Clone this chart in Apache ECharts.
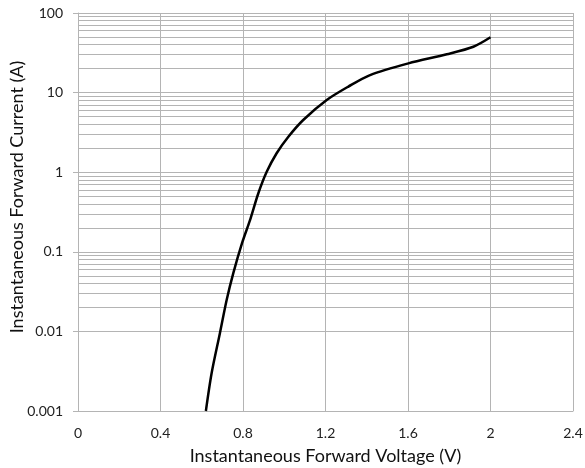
<!DOCTYPE html>
<html>
<head>
<meta charset="utf-8">
<script src="https://cdn.jsdelivr.net/npm/echarts@6/dist/echarts.min.js"></script>
<style>
  html, body { margin: 0; padding: 0; background: #fff; }
  #chart { width: 585px; height: 468px; }
</style>
</head>
<body>
<div id="chart"></div>
<script>
// forward voltage (V) vs current (A)
const voltage = [0.62, 0.648, 0.688, 0.721, 0.753, 0.796, 0.834, 0.874, 0.915, 0.963, 1.02, 1.092, 1.206, 1.311, 1.416, 1.602, 1.788, 1.917, 2.0]
const current = [0.001, 0.003, 0.0095, 0.025, 0.054, 0.13, 0.25, 0.54, 1.01, 1.73, 2.79, 4.53, 8.07, 11.9, 16.6, 23.3, 30.3, 37.7, 49.5]

// minor log gridlines (2..9 in each decade)
const decades = [0.001, 0.01, 0.1, 1, 10]
const minorSteps = [2, 3, 4, 5, 6, 7, 8, 9]

const gridColor = '#b4b4b4'
const font = 'Lato, "Open Sans", sans-serif'

const minorLines = []
decades.forEach(d => {
  minorSteps.forEach(m => {
    minorLines.push({ yAxis: +(d * m).toPrecision(3) })
  })
})

const chart = echarts.init(document.getElementById('chart'))

chart.setOption({
  animation: false,
  grid: { left: 78, right: 12, top: 13, bottom: 57, outerBoundsMode: 'none' },
  xAxis: {
    type: 'value',
    min: 0,
    max: 2.4,
    interval: 0.4,
    name: 'Instantaneous Forward Voltage (V)',
    nameLocation: 'middle',
    nameGap: 36,
    nameMoveOverlap: false,
    nameTextStyle: { fontFamily: font, fontSize: 18, color: '#111' },
    axisLine: { show: true, lineStyle: { color: gridColor } },
    axisTick: { show: false },
    axisLabel: {
      fontFamily: font, fontSize: 14, color: '#222', margin: 15,
      formatter: v => String(+v.toFixed(1))
    },
    splitLine: { show: true, lineStyle: { color: gridColor, width: 1 } }
  },
  yAxis: {
    type: 'log',
    logBase: 10,
    min: 0.001,
    max: 100,
    name: 'Instantaneous Forward Current (A)',
    nameLocation: 'middle',
    nameGap: 52,
    nameMoveOverlap: false,
    // title sits a bit above the plot centre, as in the original
    nameTextStyle: { fontFamily: font, fontSize: 18, color: '#111', padding: [0, 0, 0, 30] },
    axisLine: { show: true, lineStyle: { color: gridColor } },
    axisTick: { show: true, length: 5, lineStyle: { color: gridColor } },
    axisLabel: {
      fontFamily: font, fontSize: 14, color: '#222', margin: 15,
      formatter: v => String(+(+v).toPrecision(3))
    },
    splitLine: { show: true, lineStyle: { color: gridColor, width: 1 } }
  },
  series: [{
    type: 'line',
    data: voltage.map((v, i) => [v, current[i]]),
    smooth: 0.3,
    showSymbol: false,
    lineStyle: { color: '#000', width: 2.5 },
    z: 5,
    markLine: {
      silent: true,
      symbol: 'none',
      label: { show: false },
      animation: false,
      lineStyle: { color: gridColor, width: 1, type: 'solid' },
      data: minorLines,
      z: 1
    }
  }]
})
</script>
</body>
</html>
